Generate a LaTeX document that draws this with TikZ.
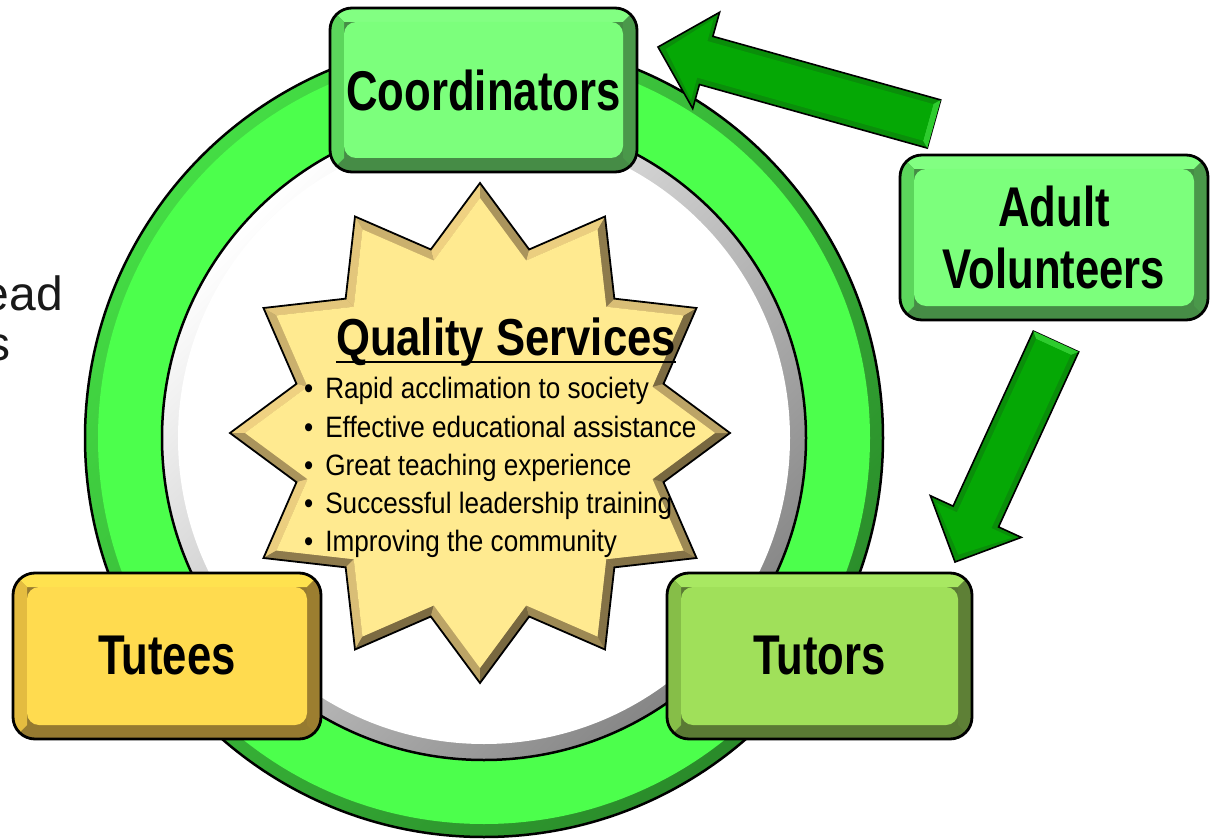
\documentclass[tikz,border=0pt]{standalone}
\usepackage{fontspec}
\setmainfont{Liberation Sans}
\newfontfamily\boxfont{Liberation Sans}[FakeStretch=0.78]
\newfontfamily\titlefont{Liberation Sans}[FakeStretch=0.84]
\newfontfamily\bulfont{Liberation Sans}[FakeStretch=0.885]
\usetikzlibrary{calc}
\definecolor{gF}{HTML}{7CFF7C}
\definecolor{gL}{HTML}{82FF82}
\definecolor{gM}{HTML}{5CD65C}
\definecolor{gD}{HTML}{468C46}
\definecolor{gR}{HTML}{4A984A}
\definecolor{tF}{HTML}{A0E05A}
\definecolor{tL}{HTML}{A8E862}
\definecolor{tM}{HTML}{86BE48}
\definecolor{tD}{HTML}{5A7A34}
\definecolor{tR}{HTML}{5E8036}
\definecolor{yF}{HTML}{FFDB4F}
\definecolor{yL}{HTML}{FFE24F}
\definecolor{yM}{HTML}{E4BC40}
\definecolor{yD}{HTML}{967A30}
\definecolor{yR}{HTML}{9C7E30}
\definecolor{ringG}{HTML}{4CFF4C}
\definecolor{ringL}{HTML}{44DC44}
\definecolor{ringD}{HTML}{2A8A2A}
\definecolor{starF}{HTML}{FFEA90}
\definecolor{starL}{HTML}{F0D282}
\definecolor{starD}{HTML}{786840}
\definecolor{arrF}{HTML}{05A805}
\definecolor{arrE}{HTML}{0A8E0A}
\definecolor{arrH}{HTML}{2ECC2E}
\newcommand\bevbox[6]{%
  \node[bbox, minimum width=#3, minimum height=#4, fill=#5D, path picture={
    \coordinate (nw) at (path picture bounding box.north west);
    \coordinate (ne) at (path picture bounding box.north east);
    \coordinate (sw) at (path picture bounding box.south west);
    \coordinate (se) at (path picture bounding box.south east);
    \fill[#5L, sharp corners] (nw) -- (ne) -- ($(ne)+(-14,14)$) -- ($(nw)+(14,14)$) -- cycle;
    \fill[#5M, sharp corners] (nw) -- ($(nw)+(14,14)$) -- ($(sw)+(14,-14)$) -- (sw) -- cycle;
    \fill[#5R, sharp corners] (ne) -- (se) -- ($(se)+(-14,-14)$) -- ($(ne)+(-14,14)$) -- cycle;
    \fill[#5F, rounded corners=12] ($(nw)+(14,14)$) rectangle ($(se)+(-14,-14)$);
  }] (#1) at (#2) {#6};}
\newcommand\blockarrow[2]{%
  \coordinate (#1n) at ($(#2)!50pt!(#1)$);
  \coordinate (#1m) at ($(#2)!46pt!(#1)$);
  \coordinate (#1i) at ($(#1)!6pt!(#2)$);
  \fill[arrE, draw=black, line width=1.6, line join=miter]
    ($(#1)!25pt!90:(#2)$) -- ($(#1n)!25pt!90:(#2)$) -- ($(#1n)!50pt!90:(#2)$) -- (#2)
    -- ($(#1n)!50pt!-90:(#2)$) -- ($(#1n)!25pt!-90:(#2)$) -- ($(#1)!25pt!-90:(#2)$) -- cycle;
  \fill[arrH] ($(#1)!25pt!90:(#2)$) -- ($(#1)!25pt!-90:(#2)$) -- ($(#1i)!19pt!-90:(#2)$) -- ($(#1i)!19pt!90:(#2)$) -- cycle;
  \fill[arrF]
    ($(#1i)!19pt!90:(#2)$) -- ($(#1m)!19pt!90:(#2)$) -- ($(#1m)!42pt!90:(#2)$) -- ($(#2)!8pt!(#1)$)
    -- ($(#1m)!42pt!-90:(#2)$) -- ($(#1m)!19pt!-90:(#2)$) -- ($(#1i)!19pt!-90:(#2)$) -- cycle;}
\begin{document}
\begin{tikzpicture}[x=1pt,y=-1pt,
  bbox/.style={draw=black, line width=2.8, rounded corners=22, inner sep=0, align=center,
    font=\boxfont\bfseries\fontsize{56}{62}\selectfont},
  bul/.style={anchor=base west, inner sep=0, font=\bulfont\fontsize{29.5}{36}\selectfont},
  lefttext/.style={anchor=base east, inner sep=0, text=black!90, font=\fontsize{48}{50}\selectfont}]
\useasboundingbox (0,0) rectangle (1211,840);
\fill[white] (0,0) rectangle (1211,840);
% cut-off text at left
\node[lefttext] (lt1) at (63,310) {ead};
\node[lefttext] (lt2) at (11,360) {s};
% ring
\coordinate (rc) at (484,438);
\shade[top color=ringL, bottom color=ringD, shading angle=45] (rc) circle[radius=399];
\fill[ringG] (rc) circle[radius=386];
\shade[top color=white, bottom color=black!48, shading angle=45] (rc) circle[radius=322];
\fill[white] (rc) circle[radius=306];
\draw[line width=2.5] (rc) circle[radius=399];
\draw[line width=2.5] (rc) circle[radius=322];
% star
\fill[starL!50!starD] ({480+250*cos(90)},{433-250*sin(90)})
  \foreach \k in {0,...,11}{ -- ({480+190*cos(105+30*\k)},{433-190*sin(105+30*\k)})
  -- ({480+250*cos(120+30*\k)},{433-250*sin(120+30*\k)}) } -- cycle;
\foreach \k in {0,...,11}{
  \pgfmathsetmacro\a{90+30*\k}
  \pgfmathtruncatemacro\pa{50+50*cos(\a+53.5-135)}
  \pgfmathtruncatemacro\pb{50+50*cos(\a-23.5-135)}
  \fill[starL!\pa!starD] ({480+250*cos(\a)},{433-250*sin(\a)}) -- ({480+190*cos(\a+15)},{433-190*sin(\a+15)})
    -- ({480+178.5*cos(\a+15)},{433-178.5*sin(\a+15)}) -- ({480+235*cos(\a)},{433-235*sin(\a)}) -- cycle;
  \fill[starL!\pb!starD] ({480+190*cos(\a+15)},{433-190*sin(\a+15)}) -- ({480+250*cos(\a+30)},{433-250*sin(\a+30)})
    -- ({480+235*cos(\a+30)},{433-235*sin(\a+30)}) -- ({480+178.5*cos(\a+15)},{433-178.5*sin(\a+15)}) -- cycle;
}
\fill[starF] ({480+235*cos(90)},{433-235*sin(90)})
  \foreach \k in {0,...,11}{ -- ({480+178.5*cos(105+30*\k)},{433-178.5*sin(105+30*\k)})
  -- ({480+235*cos(120+30*\k)},{433-235*sin(120+30*\k)}) } -- cycle;
\draw[line width=1.8, line join=miter] ({480+250*cos(90)},{433-250*sin(90)})
  \foreach \k in {0,...,11}{ -- ({480+190*cos(105+30*\k)},{433-190*sin(105+30*\k)})
  -- ({480+250*cos(120+30*\k)},{433-250*sin(120+30*\k)}) } -- cycle;
% star texts
\node[inner sep=0, anchor=base, font=\titlefont\bfseries\fontsize{52}{56}\selectfont] (qs) at (506,355) {Quality Services};
\draw[line width=2.5] ($(qs.base west)+(0,7)$) -- ($(qs.base east)+(0,7)$);
\node[bul] (b1) at (304,398) {•\hspace{12pt}Rapid acclimation to society};
\node[bul] (b2) at (304,437) {•\hspace{12pt}Effective educational assistance};
\node[bul] (b3) at (304,475) {•\hspace{12pt}Great teaching experience};
\node[bul] (b4) at (304,513) {•\hspace{12pt}Successful leadership training};
\node[bul] (b5) at (304,551) {•\hspace{12pt}Improving the community};
% boxes
\bevbox{coord}{483.5,90}{307}{164}{g}{Coordinators}
\bevbox{adult}{1054,237.5}{308}{165}{g}{Adult\\Volunteers}
\bevbox{tutees}{167,656}{308}{166}{y}{Tutees}
\bevbox{tutors}{819.5,656}{305}{166}{t}{Tutors}
% arrows
\coordinate (a1t) at (934,124);
\coordinate (a1h) at (658,47);
\coordinate (a2t) at (1056,341.5);
\coordinate (a2h) at (955,562);
\blockarrow{a1t}{a1h}
\blockarrow{a2t}{a2h}
\end{tikzpicture}
\end{document}
